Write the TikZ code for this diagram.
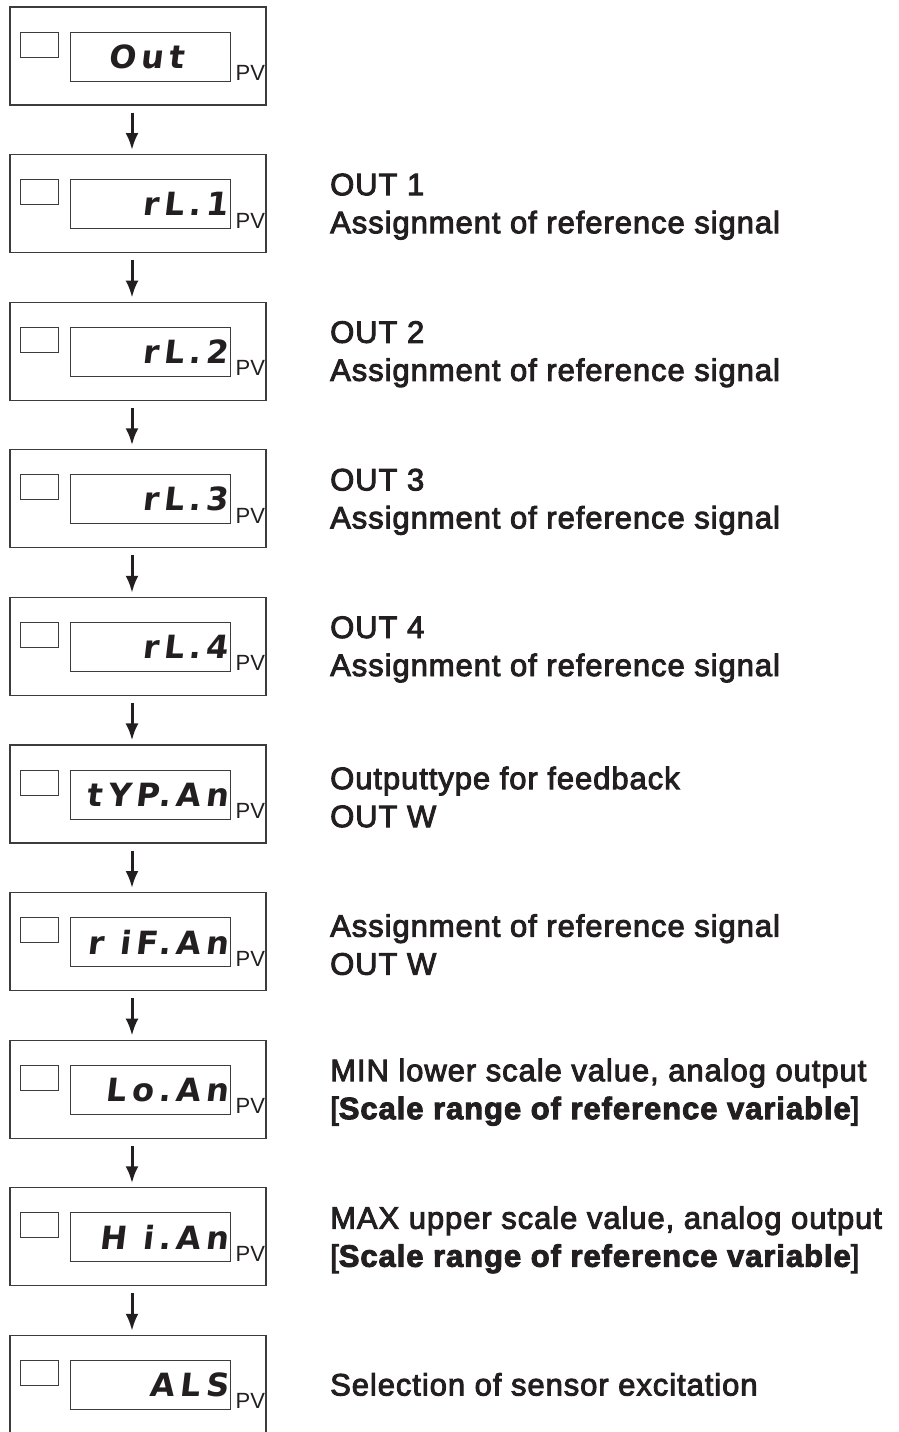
\documentclass[tikz,border=0pt]{standalone}
\usepackage{fontspec}
\setmainfont{Liberation Sans}
\usepackage{tikz}
\usetikzlibrary{arrows.meta,positioning}
\definecolor{inkblack}{RGB}{35,31,32}
\definecolor{framegray}{RGB}{60,60,60}
\newfontfamily\segfont{DejaVu Sans}[FakeSlant=0.12,LetterSpace=16]
\newfontfamily\lblfont{Liberation Sans}[FakeBold=3,LetterSpace=3]

\begin{document}
\begin{tikzpicture}[x=1pt,y=-1pt,inkblack,
  panel/.style={draw=framegray,line width=1.1pt,minimum width=256pt,minimum height=98pt,inner sep=0pt},
  lamp/.style={draw=framegray,line width=0.8pt,minimum width=38pt,minimum height=25pt,inner sep=0pt},
  screen/.style={draw=framegray,line width=0.8pt,minimum width=160pt,minimum height=49pt,inner sep=0pt},
  segtext/.style={font=\segfont\bfseries\fontsize{32}{32}\selectfont,inner sep=0pt},
  pvtag/.style={font=\fontsize{22}{22}\selectfont,inner sep=0pt},
  label/.style={font=\lblfont\fontsize{31}{38}\selectfont,align=left,anchor=west,inner sep=0pt},
  flow/.style={-{Latex[length=17pt,width=13pt]},line width=3pt,shorten >=4pt,shorten <=7pt}]
\useasboundingbox (0,0) rectangle (898,1432);
% display panels
\foreach \i/\txt in {1/Out\kern44pt,2/rL.1,3/rL.2,4/rL.3,5/rL.4,6/tYP.An,7/r iF.An,8/Lo.An,9/H i.An,10/ALS}{
  \pgfmathsetmacro\yc{56+147.6*(\i-1)}
  \node[panel] (b\i) at (138,\yc) {};
  \node[lamp] (l\i) at (39,\yc-11.5) {};
  \node[screen] (s\i) at (150,\yc+0.5) {};
  \node[segtext,anchor=east] (t\i) at ([xshift=-2pt]s\i.east) {\txt};
  \node[pvtag,anchor=base west] (p\i) at ([xshift=5pt,yshift=1pt]s\i.south east) {PV};
}
% arrows between panels
\foreach \i [evaluate=\i as \j using int(\i+1)] in {1,...,9}
  \draw[flow] ([xshift=-6pt]b\i.south) -- ([xshift=-6pt]b\j.north);
% descriptions
\node[label] (d2) at (330,59+147.6) {OUT 1\\Assignment of reference signal};
\node[label] (d3) at (330,59+147.6*2) {OUT 2\\Assignment of reference signal};
\node[label] (d4) at (330,59+147.6*3) {OUT 3\\Assignment of reference signal};
\node[label] (d5) at (330,59+147.6*4) {OUT 4\\Assignment of reference signal};
\node[label] (d6) at (330,59+147.6*5) {Outputtype for feedback\\OUT W};
\node[label] (d7) at (330,59+147.6*6) {Assignment of reference signal\\OUT W};
\node[label] (d8) at (330,59+147.6*7) {MIN lower scale value, analog output\\{}[{\bfseries Scale range of reference variable}]};
\node[label] (d9) at (330,59+147.6*8) {MAX upper scale value, analog output\\{}[{\bfseries Scale range of reference variable}]};
\node[label] (d10) at (330,56+147.6*9) {Selection of sensor excitation};
\end{tikzpicture}
\end{document}
